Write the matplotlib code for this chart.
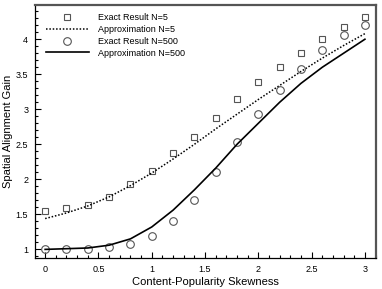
import matplotlib
matplotlib.use("Agg")
import matplotlib.pyplot as plt
from matplotlib.ticker import MultipleLocator

plt.rcParams['font.family'] = ['Liberation Sans', 'DejaVu Sans']

# skewness values
skew = [0.0, 0.2, 0.4, 0.6, 0.8, 1.0, 1.2, 1.4, 1.6, 1.8, 2.0, 2.2, 2.4, 2.6, 2.8, 3.0]

exact_n5 = [1.55, 1.59, 1.64, 1.75, 1.93, 2.12, 2.38, 2.61, 2.87, 3.15, 3.39, 3.61, 3.80, 4.00, 4.18, 4.32]
approx_n5 = [1.44, 1.52, 1.62, 1.75, 1.91, 2.09, 2.29, 2.50, 2.72, 2.93, 3.14, 3.34, 3.54, 3.73, 3.91, 4.08]
exact_n500 = [1.00, 1.00, 1.01, 1.04, 1.07, 1.19, 1.41, 1.70, 2.10, 2.54, 2.93, 3.28, 3.57, 3.84, 4.06, 4.20]
approx_n500 = [1.00, 1.01, 1.02, 1.06, 1.15, 1.32, 1.56, 1.85, 2.16, 2.50, 2.80, 3.10, 3.37, 3.60, 3.80, 4.00]

fig = plt.figure(figsize=(3.82, 2.89), dpi=100)
ax = fig.add_axes([0.092, 0.107, 0.892, 0.876])

ax.plot(skew, exact_n5, linestyle='none', marker='s', ms=5, mfc='none',
        mec='#555555', mew=0.8, label='Exact Result N=5')
ax.plot(skew, approx_n5, color='black', linestyle=(0, (1, 1.2)), lw=1.1,
        label='Approximation N=5')
ax.plot(skew, exact_n500, linestyle='none', marker='o', ms=5.5, mfc='none',
        mec='#555555', mew=0.8, label='Exact Result N=500')
ax.plot(skew, approx_n500, color='black', lw=1.2, label='Approximation N=500')

ax.set_xlim(-0.094, 3.103)
ax.set_ylim(0.876, 4.49)
ax.xaxis.set_major_locator(MultipleLocator(0.5))
ax.xaxis.set_minor_locator(MultipleLocator(0.1))
ax.yaxis.set_major_locator(MultipleLocator(0.5))
ax.yaxis.set_minor_locator(MultipleLocator(0.1))
ax.xaxis.set_major_formatter(plt.FuncFormatter(lambda v, p: '%g' % v))
ax.yaxis.set_major_formatter(plt.FuncFormatter(lambda v, p: '%g' % v))

ax.tick_params(which='both', direction='in', top=False, right=False,
               labelsize=6.5, width=0.8, pad=5)
ax.tick_params(which='major', length=4)
ax.tick_params(which='minor', length=2)

for s in ['left', 'bottom']:
    ax.spines[s].set_linewidth(0.9)
    ax.spines[s].set_color('black')
for s in ['top', 'right']:
    ax.spines[s].set_linewidth(1.6)
    ax.spines[s].set_color('#555555')

ax.set_xlabel('Content-Popularity Skewness', fontsize=8, labelpad=2)
ax.set_ylabel('Spatial Alignment Gain', fontsize=8, labelpad=2)

ax.legend(loc='upper left', frameon=False, fontsize=6.5, handlelength=4.8,
          handletextpad=1.0, labelspacing=0.3, borderaxespad=0.4,
          bbox_to_anchor=(0.01, 0.995))

fig.savefig('out.png', dpi=100)
